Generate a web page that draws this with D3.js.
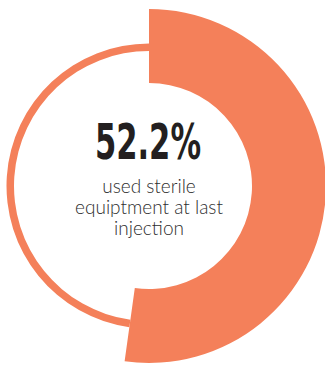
<!DOCTYPE html>
<html>
<head>
<meta charset="utf-8">
<script src="https://cdn.jsdelivr.net/npm/d3@7"></script>
<style>
  html, body { margin: 0; padding: 0; background: #fff; }
  svg { display: block; }
</style>
</head>
<body>
<svg id="chart" width="325" height="365"></svg>
<script>
const categories = ["used sterile equipment", "other"];
const values = [52.2, 47.8];
const valueLabel = "52.2%";
const captionLines = ["used sterile", "equiptment at last", "injection"];

const svg = d3.select("#chart");
const cx = 149, cy = 186;
const color = "#F4805A";

const total = d3.sum(values);
const angle = d3.scaleLinear().domain([0, total]).range([0, 2 * Math.PI]);

const g = svg.append("g").attr("transform", `translate(${cx},${cy})`);

// remainder: thin ring
g.append("path")
  .attr("d", d3.arc()
    .innerRadius(135).outerRadius(142.5)
    .startAngle(angle(values[0])).endAngle(angle(total))())
  .attr("fill", color);

// main value: thick arc
g.append("path")
  .attr("d", d3.arc()
    .innerRadius(103).outerRadius(177)
    .startAngle(angle(0)).endAngle(angle(values[0]))())
  .attr("fill", color);

// big number
svg.append("text")
  .attr("x", 148).attr("y", 159)
  .attr("text-anchor", "middle")
  .attr("font-family", "'Liberation Sans Narrow', 'DejaVu Sans Condensed', sans-serif")
  .attr("font-weight", "bold")
  .attr("font-size", 50)
  .attr("fill", "#231f20")
  .attr("textLength", 106)
  .attr("lengthAdjust", "spacingAndGlyphs")
  .text(valueLabel);

// caption
const cap = svg.append("text")
  .attr("text-anchor", "middle")
  .attr("font-family", "Lato, 'Open Sans', sans-serif")
  .attr("font-weight", 300)
  .attr("font-size", 19)
  .attr("fill", "#2e2e2e");
captionLines.forEach((l, i) => {
  cap.append("tspan").attr("x", 149).attr("y", 193 + i * 21.2).text(l);
});
</script>
</body>
</html>
